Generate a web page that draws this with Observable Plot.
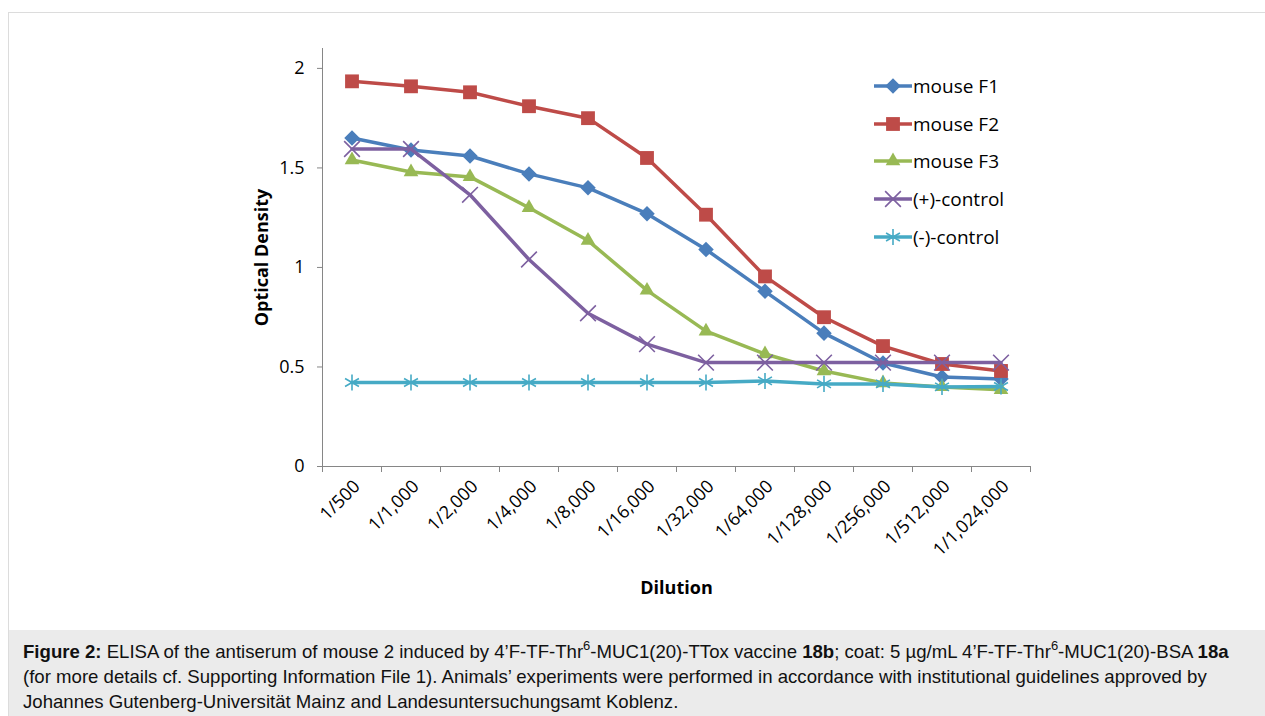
<!DOCTYPE html>
<html>
<head>
<meta charset="utf-8">
<script src="https://cdn.jsdelivr.net/npm/d3@7"></script>
<script src="https://cdn.jsdelivr.net/npm/@observablehq/plot@0.6"></script>
<style>
  html, body { margin: 0; padding: 0; background: #fff; overflow: hidden; width: 1265px; height: 716px; }
  #wrap { position: absolute; left: 8px; top: 12px; width: 1270px; height: 720px; border-left: 1px solid #dcdcdc; border-top: 1px solid #dcdcdc; }
  #chart { position: relative; width: 1256px; height: 617px; background: #fff; }
  #legend { position: absolute; left: 864px; top: 54px; font-family: "Open Sans", sans-serif; font-size: 19px; color: #000; }
  #legend .row { height: 37.75px; display: flex; align-items: center; }
  #legend svg { display: block; margin-right: 0px; }
  #caption { width: 1256px; height: 100px; background: #ebebeb; box-sizing: border-box; padding: 9px 0 0 14px; white-space: nowrap;
     font-family: "Liberation Sans", Arial, sans-serif; font-size: 18.6px; line-height: 25px; color: #111; }
  #caption sup { font-size: 13px; line-height: 0; position: relative; top: -1px; }
</style>
</head>
<body>
<div id="wrap">
  <div id="chart"><div id="legend"></div></div>
  <div id="caption"><b>Figure 2:</b> ELISA of the antiserum of mouse 2 induced by 4’F-TF-Thr<sup>6</sup>-MUC1(20)-TTox vaccine <b>18b</b>; coat: 5 µg/mL 4’F-TF-Thr<sup>6</sup>-MUC1(20)-BSA <b>18a</b><br>(for more details cf. Supporting Information File 1). Animals’ experiments were performed in accordance with institutional guidelines approved by<br>Johannes Gutenberg-Universität Mainz and Landesuntersuchungsamt Koblenz.</div>
</div>
<script>
const dilutions = ["1/500","1/1,000","1/2,000","1/4,000","1/8,000","1/16,000","1/32,000","1/64,000","1/128,000","1/256,000","1/512,000","1/1,024,000"];
const seriesNames = ["mouse F1","mouse F2","mouse F3","(+)-control","(-)-control"];
const mouseF1 = [1.65, 1.59, 1.56, 1.47, 1.40, 1.27, 1.09, 0.88, 0.67, 0.52, 0.45, 0.44];
const mouseF2 = [1.935, 1.91, 1.88, 1.81, 1.75, 1.55, 1.265, 0.955, 0.75, 0.605, 0.515, 0.48];
const mouseF3 = [1.54, 1.48, 1.455, 1.30, 1.135, 0.885, 0.68, 0.565, 0.48, 0.42, 0.40, 0.385];
const posControl = [1.595, 1.595, 1.365, 1.04, 0.77, 0.615, 0.522, 0.522, 0.522, 0.522, 0.522, 0.522];
const negControl = [0.422, 0.422, 0.422, 0.422, 0.422, 0.422, 0.422, 0.43, 0.415, 0.415, 0.40, 0.402];
const yTicks = [0, 0.5, 1, 1.5, 2];

const colors = ["#4a7ebb", "#be4b48", "#98b954", "#7d60a0", "#46aac5"];
const symbols = ["diamond2", "square2", "triangle2", "times", "asterisk"];
const radii = [7, 8.8, 7, 7.2, 7.6];
const filled = [true, true, true, false, false];
const allValues = [mouseF1, mouseF2, mouseF3, posControl, negControl];

const marks = [
  Plot.ruleY([0], {stroke: "#868686", strokeWidth: 1}),
  Plot.ruleX([0], {stroke: "#868686", strokeWidth: 1}),
  Plot.axisY({ticks: yTicks, tickSize: 5, tickPadding: 13, stroke: "#868686", fill: "#000", label: null, fontSize: 18, tickFormat: d => String(d)}),
  Plot.axisX({ticks: d3.range(dilutions.length + 1), tickSize: 6, tickFormat: () => "", stroke: "#868686", label: null}),
  Plot.axisX({ticks: dilutions.map((d, i) => i + 0.5), tickSize: 0, tickPadding: 17, dx: 5, tickRotate: -45, fontSize: 18,
    tickFormat: v => dilutions[Math.round(v - 0.5)], fill: "#000", label: null}),
  Plot.text(["Optical Density"], {frameAnchor: "left", textAnchor: "middle", dx: -60, rotate: -90, fontWeight: "bold", fontSize: 18, fill: "#000"}),
  Plot.text(["Dilution"], {frameAnchor: "bottom", dy: 127, fontWeight: "bold", fontSize: 18, fill: "#000"})
];

allValues.forEach((vals, s) => {
  const rows = vals.map((v, i) => ({x: i + 0.5, y: v, dilution: dilutions[i], series: seriesNames[s]}));
  marks.push(Plot.line(rows, {x: "x", y: "y", stroke: colors[s], strokeWidth: 3.5, strokeLinejoin: "round", strokeLinecap: "round"}));
  marks.push(Plot.dot(rows, filled[s]
    ? {x: "x", y: "y", symbol: symbols[s], r: radii[s], fill: colors[s], stroke: "none"}
    : {x: "x", y: "y", symbol: symbols[s], r: radii[s], fill: "none", stroke: colors[s], strokeWidth: 1.6}));
});

const plot = Plot.plot({
  width: 1256,
  height: 617,
  marginLeft: 313,
  marginRight: 235,
  marginTop: 35,
  marginBottom: 164,
  x: {type: "linear", domain: [0, dilutions.length], axis: null},
  y: {domain: [0, 2.1], axis: null},
  style: {fontFamily: "Open Sans, sans-serif", fontSize: "18px", color: "#000", background: "white", overflow: "visible"},
  marks
});
document.getElementById("chart").prepend(plot);

// legend
const legend = d3.select("#legend");
const symMap = {diamond2: d3.symbolDiamond2, square2: d3.symbolSquare2, triangle2: d3.symbolTriangle2, times: d3.symbolTimes, asterisk: d3.symbolAsterisk};
seriesNames.forEach((name, s) => {
  const row = legend.append("div").attr("class", "row");
  const svg = row.append("svg").attr("width", 40).attr("height", 20);
  svg.append("line").attr("x1", 1).attr("x2", 39).attr("y1", 10).attr("y2", 10)
    .attr("stroke", colors[s]).attr("stroke-width", 3.5);
  const path = d3.symbol(symMap[symbols[s]], Math.PI * radii[s] * radii[s])();
  svg.append("path").attr("d", path).attr("transform", "translate(20,10)")
    .attr("fill", filled[s] ? colors[s] : "none").attr("stroke", filled[s] ? "none" : colors[s]).attr("stroke-width", 1.6);
  row.append("span").text(name);
});
</script>
</body>
</html>
